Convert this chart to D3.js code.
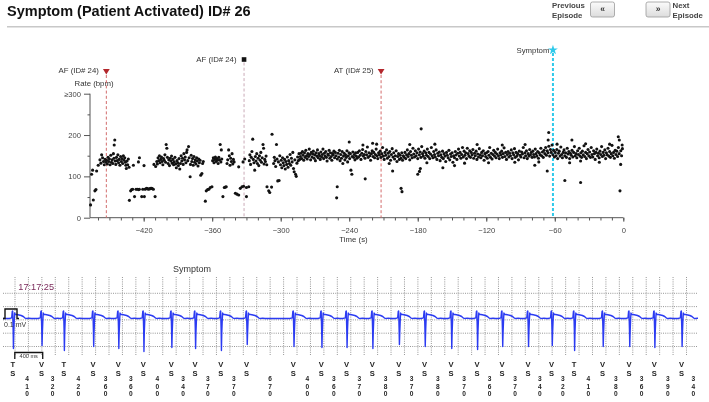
<!DOCTYPE html>
<html><head><meta charset="utf-8">
<script src="https://cdn.jsdelivr.net/npm/d3@7"></script>
<style>
body{margin:0;background:#fff;}
svg{display:block;font-family:"Liberation Sans",Arial,Helvetica,sans-serif;}
.gray-aa{opacity:0.995;will-change:opacity;}
</style>
</head><body>
<svg id="chart" width="709" height="402"></svg>
<script>
// ---------------- DATA ----------------
const titleText = "Symptom (Patient Activated) ID# 26";
const rateTicks = [0, 100, 200, 300];
const rateTickLabels = ["0", "100", "200", "\u2265300"];
const rateMinorTicks = [50, 150, 250];
const timeTicks = [-420, -360, -300, -240, -180, -120, -60, 0];
const timeTickLabels = ["\u2212420", "\u2212360", "\u2212300", "\u2212240", "\u2212180", "\u2212120", "\u221260", "0"];
const eventLabels = ["AF (ID# 24)", "AF (ID# 24)", "AT (ID# 25)", "Symptom"];
const eventTimes = [-452.7, -332.1, -212.1, -61.6];
const eventKinds = ["onset", "end", "onset", "symptom"];

// ventricular rate points [time (s), rate (bpm)]
const ratePoints = [
[-466.5,31],[-465.6,105],[-464.7,115],[-464.1,43],[-462.7,65],[-461.8,68],[-461.2,113],[-459.8,127],[-458.3,140],[-457.5,132],[-456.8,152],[-456,145],[-455.2,136],[-454.5,128],[-453.8,141],[-453,134],
[-452.4,139],[-451.8,130],[-451.2,146],[-450.6,136],[-450,142],[-449.4,128],[-448.8,151],[-448.2,134],[-447.6,140],[-447,131],[-446.5,155],[-446,144],[-445.8,176],[-445.3,188],[-445,137],[-444.4,129],[-443.8,146],[-443.2,138],[-442.6,152],[-442,133],[-441.4,141],[-440.8,127],[-440.2,148],[-439.6,136],[-439,143],[-438.4,131],[-437.8,150],[-437.2,139],[-436.6,145],[-436,134],[-435.6,127],[-435.2,119],[-434.6,137],[-434,128],[-433.4,142],[-432.8,122],
[-429,127],[-424.6,135],[-423.7,145],[-419.7,126],
[-432.5,42],[-431.4,65],[-430.5,68],[-429.6,69],[-428,51],[-426.7,69],[-425.5,69],[-424.4,68],[-423.8,69],[-421.7,51],[-420.8,69],[-419.4,51],[-418.8,69],[-418,70],[-417.3,71],[-416.5,70],[-415.8,69],[-415,70],[-414.4,70],[-413.7,71],[-413,71],[-412.3,70],[-411.5,69],[-410,51],
[-411,129],[-409.5,124],[-408.5,136],[-408,130],[-407.4,145],[-406.8,138],[-406.2,150],[-405.6,133],[-405,141],[-404.4,147],[-403.8,136],[-403.2,128],[-402.6,143],[-402,139],[-401.4,152],[-400.8,134],[-400.3,177],[-399.7,168],[-399.2,146],[-398.6,131],[-398,140],[-397.4,126],[-396.8,144],[-396.2,137],[-395.6,149],[-395,132],[-394.4,141],[-393.8,128],[-393.2,135],[-392.6,146],[-392,130],[-391.4,121],[-390.8,138],[-390.2,133],[-389.6,126],[-389,143],[-388.4,118],[-387.8,131],[-387.2,150],[-386.6,137],[-386,144],[-385.4,129],[-384.8,155],[-384.2,140],[-383.6,147],[-383,133],[-382.4,158],[-382,164],[-381.4,138],[-380.7,172],[-380.2,145],[-379.3,99],[-379,129],[-378.4,151],[-377.8,136],[-377.2,143],[-376.6,127],[-376,148],[-375.4,134],[-374.8,140],[-374.2,130],[-373.6,145],[-373,137],[-372.4,125],[-371.8,142],[-371.2,133],[-370.6,139],[-370,103],[-369,107],[-368.4,131],[-367.8,136],
[-366,40],[-365.2,65],[-364,68],[-362.9,69],[-361.7,73],[-360.2,75],
[-359.6,138],[-359,145],[-358.4,133],[-357.8,141],[-357.2,147],[-356.6,136],[-356,143],[-355.4,139],[-354.8,131],[-354.2,146],[-353.6,140],[-353,177],[-352.4,135],[-352,164],[-351.6,142],
[-350.6,51],[-349.4,73],[-348.5,74],[-347.7,75],
[-347,131],[-346.4,140],[-345.6,164],[-345,150],[-344.4,127],[-343.8,144],[-343.2,136],[-342.6,155],[-342,130],[-341.4,141],[-340.8,135],
[-339.7,59],[-338.3,57],[-336.8,55],[-335.4,71],[-333.9,75],[-332.5,76],[-336.8,123],[-333,135],[-331.5,142],[-330,73],[-330,51],[-328,75],
[-327.5,138],[-327,152],[-326.4,129],[-325.8,146],[-325.2,160],[-324.5,190],[-324,141],[-323.4,133],[-322.8,115],[-322.2,148],[-321.6,137],[-321,155],[-320.4,131],[-319.8,144],[-319.2,126],[-318.6,150],[-318,139],[-317.4,158],[-316.8,134],[-316.2,145],[-315.5,177],[-315,168],[-314.6,130],[-314,141],[-313.4,136],[-312.8,149],[-312.2,128],
[-312,75],[-310.5,65],[-309.6,61],[-308,74],[-307.6,202],[-303.7,177],
[-306.2,131],[-305.6,146],[-305,138],[-304.4,124],[-303.2,142],[-302.6,89],[-302,135],[-301.4,90],[-300.8,150],[-300.2,128],[-299.6,139],[-299,121],[-298.4,145],[-297.8,133],[-297.2,126],[-296.6,141],[-296,118],[-295.4,136],[-294.8,129],[-294.2,147],[-293.6,122],[-293,138],[-292.4,131],[-291.8,153],[-291.2,127],[-290.6,144],[-290,135],[-289.4,158],[-288.8,119],[-288.2,111],[-287.6,140],[-287,105],[-286.4,100],[-285.8,132],[-285.2,147],[-284.6,138],[-284,155],[-283.4,141],
[-282.8,148],[-282.2,156],[-281.6,143],[-281,160],[-280.4,151],[-279.8,139],[-279.2,157],[-278.6,146],[-278,163],[-277.4,150],[-276.8,142],[-276.2,155],[-275.6,148],[-275,166],[-274.4,153],[-273.8,140],[-273.2,158],[-272.6,147],[-272,154],[-271.4,161],[-270.8,144],[-270.2,152],[-269.6,138],[-269,157],[-268.4,149],[-267.8,164],[-267.2,145],[-266.6,155],[-266,150],[-265.4,141],[-264.8,159],[-264.2,147],[-263.6,153],[-263,166],[-262.4,143],[-261.8,156],[-261.2,149],[-260.6,160],[-260,146],[-259.4,137],[-258.8,154],[-258.2,151],[-257.6,163],[-257,144],[-256.4,157],[-255.8,148],[-255.2,139],[-254.6,155],[-254,152],[-253.4,161],[-252.8,145],[-252.2,158],[-251.6,150],[-251,48],[-250.5,75],[-250.4,142],[-249.8,156],[-249.2,147],[-248.6,163],[-248,138],[-247.4,153],[-246.8,144],[-246.2,160],[-245.6,131],[-245,149],[-244.4,156],[-243.8,140],[-243.2,152],[-242.6,146],[-242,162],[-241.4,135],[-240.8,150],[-240.2,157],[-240,183],[-239.6,143],[-239,155],[-238.5,115],[-237.7,105],[-237.4,148],[-236.8,159],[-236.2,146],[-235.6,153],[-235,140],[-234.4,157],[-233.8,149],[-233.2,144],
[-232.5,158],[-231.8,147],[-231.1,162],[-230.4,151],[-229.7,141],[-229,156],[-228.3,165],[-227.6,149],[-226.9,153],[-226,94],[-226.2,144],[-225.5,160],[-224.8,152],[-224.1,171],[-223.4,146],[-222.7,157],[-222,150],[-221.3,139],[-220.6,155],[-219.9,162],[-219.5,180],[-219.2,148],[-218.5,158],[-217.8,145],[-217.1,153],[-216.4,166],[-215.7,150],[-215,143],[-214.3,157],[-213.6,152],[-212.9,161],[-212.2,146],[-211.5,155],[-210.8,170],[-210.1,149],[-209.4,141],[-208.7,158],[-208,151],[-207.3,164],[-206.6,144],[-205.9,156],[-205.2,148],[-204.5,160],[-203.8,139],[-203.1,153],[-202.4,167],[-202,113],[-201.7,147],[-201,157],[-200.3,142],[-199.6,150],[-198.9,162],[-198.2,136],[-197.5,148],[-196.8,155],[-196.1,141],[-195.4,151],[-194.6,71],[-193.8,63],[-194.7,144],[-194,157],[-193.3,139],[-192.6,150],[-191.9,146],[-191.2,158],[-190.5,143],[-189.8,152],[-189.1,164],[-188.4,148],[-187.7,155],[-187,140],[-186.3,160],[-185.6,151],[-184.9,145],[-184.2,168],[-183.5,154],[-182.8,147],[-182.1,162],[-181.4,150],[-180.7,157],[-180,105],[-180,143],[-179.3,166],[-178.5,112],[-177.7,119],[-177,215],[-178.6,152],[-177.9,159],[-177.2,146],[-176.5,172],[-175.8,155],[-175.1,149],[-174.4,161],[-173.7,144],[-173,157],[-172.3,151],[-171.6,166],[-170.9,148],[-170.2,158],[-169.5,143],[-168.8,154],[-168.1,170],[-167.4,150],[-166.7,145],[-166,160],[-165.3,153],[-164.6,147],[-163.9,164],[-163.2,141],[-162.5,156],[-161.8,150],[-161.1,159],[-160.4,138],[-159.7,152],[-159,146],[-158.3,161],[-158,121],[-157.6,143],[-156.9,155],[-156.2,149],[-155.5,136],[-154.8,158],[-154.1,151],[-153.4,145],[-152.7,163],[-152,140],[-151.3,154],[-150.6,148],[-149.9,157],[-149.2,134],[-148.5,150],[-147.8,126],[-147.8,145],[-147.1,160],[-146.4,152],[-145.7,141],[-145,156],[-144.3,166],[-143.6,149],[-142.9,158],[-142.2,144],[-141.5,153],[-140.8,170],[-140.1,147],[-139.4,161],[-138.7,151],[-138,157],[-137.3,143],[-136.6,168],[-135.9,155],[-135.2,149],[-134.5,162],[-133.8,146],[-133.1,158],[-132.4,152],[-131.7,165],[-131,144],[-130.3,156],[-129.6,150],[-128.9,161],[-128.2,141],[-127.5,154],[-126.8,147],[-126.1,167],[-125.4,152],[-124.7,145],[-124,158],[-123.3,150],[-122.6,162],[-121.9,139],[-121.2,155],[-120.5,148],[-119.8,157],[-119.1,144],[-118.4,160],[-117.7,151],[-117,170],[-116.3,146],[-115.6,156],[-114.9,142],[-114.2,153],[-113.5,163],[-112.8,149],[-112.1,158],[-111.4,145],[-110.7,154],[-110,166],[-109.3,150],[-108.6,143],[-107.9,157],[-107.2,152],[-106.5,161],[-105.8,146],[-105.1,155],[-104.4,169],[-103.7,148],[-103,158],[-102.3,141],[-101.6,153],[-100.9,160],[-100.2,147],[-99.5,156],[-98.8,150],[-98.1,164],[-97.4,143],[-96.7,157],[-96,152],[-95.3,167],[-94.6,146],[-93.9,158],[-93.2,149],[-92.5,155],[-91.8,140],[-91.1,161],[-90.4,151],[-89.7,147],[-89,159],[-88.3,154],[-87.6,170],[-86.9,145],[-86.2,157],[-85.5,150],[-84.8,162],[-84.1,143],[-83.4,155],[-82.7,149],[-82,165],[-81.3,152],[-80.6,158],[-79.9,146],[-79.2,161],[-78.5,153],[-77.8,147],[-77.5,127],[-77.1,166],[-76.4,155],[-75.7,149],[-75,160],[-74.3,144],[-73.6,157],[-72.9,152],[-72.2,168],[-71.5,150],[-70.8,159],[-70.1,146],[-69.4,163],[-68.7,155],[-68,170],[-67.3,151],[-66.6,113],[-66.6,162],[-65.8,188],[-65.3,206],[-65.9,157],[-65.2,173],[-64.5,149],[-63.8,165],[-63.1,158],[-62.4,176],[-61.7,152],[-61,163],[-60.3,147],[-59.6,158],[-58.9,150],[-58.2,165],[-57.5,143],[-56.8,156],[-56.1,161],[-55.4,149],[-54.7,171],[-54,153],[-53.3,145],[-52.6,158],[-51.9,164],[-51.2,90],[-51.2,150],[-50.5,157],[-49.8,146],[-49.1,168],[-48.4,154],[-47.7,160],[-47,143],[-46.3,156],[-45.6,151],[-45,188],[-44.9,163],[-44.2,147],[-43.5,158],[-42.8,172],[-42.1,150],[-41.4,155],[-40.7,145],[-40,162],[-39.3,153],[-38.6,168],[-37.9,149],[-37.4,85],[-37.4,137],[-37.2,157],[-36.5,146],[-35.8,161],[-35.1,152],[-34.4,174],[-33.7,148],[-33,158],[-32.3,143],[-31.6,155],[-30.9,165],[-30.2,150],[-29.5,159],[-28.8,146],[-28.1,170],[-27.4,153],[-26.7,147],[-26,162],[-25.3,155],[-24.6,141],[-23.9,158],[-23.2,166],[-22.5,150],[-21.8,156],[-21.1,145],[-20.4,161],[-19.7,153],[-19,172],[-18.3,148],[-17.6,158],[-16.9,151],[-16.2,164],[-15.5,143],[-14.8,157],[-14.1,152],[-13.4,168],[-12.7,149],[-12,160],[-11.3,146],[-10.6,155],[-9.9,175],[-9.2,150],[-8.5,158],[-7.8,144],[-7.1,163],[-6.4,153],[-5.7,161],[-5,148],[-4.4,196],[-3.5,188],[-4.3,170],[-3.6,155],[-2.9,65],[-2.3,129],[-2.2,162],[-1.5,150],[-0.8,167],
[-228,176],[-216,178],[-205,131],[-187,177],[-172,133],[-165,178],[-139,132],[-128,177],[-118,133],[-106,176],[-95,134],[-86,177],[-74,135],[-58,178],[-47,133],[-33,179],[-21,134],[-12,178],[-1,176]
];

// EGM strip
const egmTimeLabel = "17:17:25";
const egmEventLabel = "Symptom";
const egmIntervals = [410,320,420,360,360,400,340,370,370,670,400,360,370,380,370,380,370,360,370,340,320,410,380,360,390,340];
const egmBeatCodes = ["T","V","T","V","V","V","V","V","V","V","V","V","V","V","V","V","V","V","V","V","V","T","V","V","V","V","V"];
const egmDepths = [0.30,0.27,0.32,0.28,0.30,0.33,0.29,0.30,0.32,0.26,0.28,0.29,0.29,0.30,0.26,0.28,0.30,0.31,0.28,0.28,0.27,0.32,0.28,0.28,0.29,0.28,0.28];
// beat waveform template [ms from sense, mV]; null = spike bottom
const beatTemplate = [[-50,0],[-16,0.006],[-8,0.07],[-2,0.075],[5,-0.12],[9,null],[14,-0.14],[20,-0.03],[26,0.055],[36,0.042],[75,0.037],[120,0.03],[150,0.02],[175,0.004],[200,0],[230,0.004],[262,0]];

// ---------------- DRAW ----------------
const svg = d3.select("#chart");
const FONT = '"Liberation Sans",Arial,Helvetica,sans-serif';
const root = svg.append("g").attr("class", "gray-aa");

// header
root.append("text").attr("x", 7).attr("y", 15.5).attr("font-size", 14.5).attr("font-weight", "bold")
  .attr("fill", "#111").text(titleText);
root.append("line").attr("x1", 7).attr("x2", 709).attr("y1", 26.7).attr("y2", 26.7)
  .attr("stroke", "#c8c8c8").attr("stroke-width", 1.5);

const defs = svg.append("defs");
const grad = defs.append("linearGradient").attr("id", "btn").attr("x1", 0).attr("x2", 0).attr("y1", 0).attr("y2", 1);
grad.append("stop").attr("offset", 0).attr("stop-color", "#fbfbfb");
grad.append("stop").attr("offset", 1).attr("stop-color", "#dcdcdc");

function navText(x, anchor, lines) {
  const t = root.append("text").attr("x", x).attr("font-size", 7.8).attr("font-weight", "bold")
    .attr("fill", "#444").attr("text-anchor", anchor);
  lines.forEach((l, i) => t.append("tspan").attr("x", x).attr("y", 7.8 + i * 10.2).text(l));
}
function navButton(x, glyph) {
  root.append("rect").attr("x", x).attr("y", 2).attr("width", 24).attr("height", 15).attr("rx", 2)
    .attr("fill", "url(#btn)").attr("stroke", "#9a9a9a").attr("stroke-width", 0.8);
  root.append("text").attr("x", x + 12).attr("y", 12.3).attr("text-anchor", "middle").attr("font-size", 8.5)
    .attr("font-weight", "bold").attr("fill", "#333").text(glyph);
}
navText(552, "start", ["Previous", "Episode"]);
navButton(590.5, "\u00ab");
navButton(646, "\u00bb");
navText(672.5, "start", ["Next", "Episode"]);

// scatter scales
const x = d3.scaleLinear().domain([-467, 0]).range([90, 623.3]);
const y = d3.scaleLinear().domain([0, 300]).range([217.7, 93.7]);

// axes
const axisColor = "#555";
const gx = root.append("g").attr("transform", "translate(0,217.7)");
gx.call(d3.axisBottom(x).tickValues(d3.range(-460, 1, 10)).tickSize(2.8).tickFormat(""));
gx.call(g => g.selectAll(".tick line").attr("stroke", axisColor));
gx.select(".domain").attr("stroke", axisColor).attr("d", `M${x(-467)},0H${x(0)}`);
const gx2 = root.append("g").attr("transform", "translate(0,217.7)");
gx2.call(d3.axisBottom(x).tickValues(timeTicks).tickSize(4).tickPadding(6)
  .tickFormat((d, i) => timeTickLabels[i]));
gx2.select(".domain").remove();
gx2.selectAll(".tick line").attr("stroke", axisColor);
gx2.selectAll(".tick text").attr("font-size", 7.6).attr("fill", "#444").attr("font-family", FONT);

const gy = root.append("g").attr("transform", "translate(90,0)");
gy.call(d3.axisLeft(y).tickValues(rateTicks).tickSize(6).tickPadding(3)
  .tickFormat((d, i) => rateTickLabels[i]));
gy.select(".domain").attr("stroke", axisColor).attr("d", `M0,${y(300)}V${y(0)}`);
gy.selectAll(".tick line").attr("stroke", axisColor);
gy.selectAll(".tick text").attr("font-size", 7.6).attr("fill", "#444").attr("font-family", FONT);
const gy2 = root.append("g").attr("transform", "translate(90,0)");
gy2.call(d3.axisLeft(y).tickValues(rateMinorTicks).tickSize(2.5).tickFormat(""));
gy2.select(".domain").remove();
gy2.selectAll(".tick line").attr("stroke", axisColor);

root.append("text").attr("x", 94).attr("y", 85.6).attr("text-anchor", "middle").attr("font-size", 7.8)
  .attr("fill", "#333").text("Rate (bpm)");
root.append("text").attr("x", 353.5).attr("y", 241.5).attr("text-anchor", "middle").attr("font-size", 7.8)
  .attr("fill", "#333").text("Time (s)");

// event markers
const kindStyle = {
  onset:   {line: "#d26a6a", width: 1, dash: "3,2.2", top: 75, markY: 71.5, textY: 73.4},
  end:     {line: "#c9a9b6", width: 1, dash: "3,2.2", top: 62.5, markY: 59.5, textY: 61.6},
  symptom: {line: "#2ec9ea", width: 2, dash: "3,2", top: 53, markY: 50, textY: 52.6}
};
eventTimes.forEach((t, i) => {
  const st = kindStyle[eventKinds[i]];
  const px = x(t);
  root.append("line").attr("x1", px).attr("x2", px).attr("y1", st.top).attr("y2", y(0))
    .attr("stroke", st.line).attr("stroke-width", st.width).attr("stroke-dasharray", st.dash);
  if (eventKinds[i] === "onset") {
    root.append("path").attr("d", `M${px - 3.4},${st.markY - 2.6}H${px + 3.4}L${px},${st.markY + 3}Z`).attr("fill", "#b3262b");
  } else if (eventKinds[i] === "end") {
    root.append("rect").attr("x", px - 2.3).attr("y", st.markY - 2.3).attr("width", 4.6).attr("height", 4.6).attr("fill", "#111");
  } else {
    root.append("path").attr("d", d3.symbol(d3.symbolStar, 30)()).attr("transform", `translate(${px},${st.markY})`).attr("fill", "#2ec9ea");
  }
  root.append("text").attr("x", px - (eventKinds[i] === "symptom" ? 3.5 : 7.5)).attr("y", st.textY)
    .attr("text-anchor", "end").attr("font-size", 7.8).attr("fill", "#333").text(eventLabels[i]);
});

// points
root.append("g").selectAll("circle").data(ratePoints).join("circle")
  .attr("cx", d => x(d[0])).attr("cy", d => y(d[1])).attr("r", 1.55).attr("fill", "#111");

// ---------------- EGM strip ----------------
const ex = d3.scaleLinear().domain([0, 1000]).range([12.8, 12.8 + 69.8]);
const ey = d3.scaleLinear().domain([0, 0.1]).range([318.5, 308.5]);
const beatTimes = [0];
egmIntervals.forEach(iv => beatTimes.push(beatTimes[beatTimes.length - 1] + iv));

// grid
const grid = root.append("g").attr("stroke", "#8a8a8a").attr("stroke-width", 0.9).attr("stroke-dasharray", "1,1.2");
const gridRows = [293.3, 306.6, 319.9, 333.2, 346.5];
const gridCols = d3.range(15, 690, 13.43);
gridRows.forEach(r => grid.append("line").attr("x1", 3).attr("x2", 698).attr("y1", r).attr("y2", r));
gridCols.forEach(c => grid.append("line").attr("x1", c).attr("x2", c).attr("y1", 277).attr("y2", 355));

root.append("text").attr("x", 192).attr("y", 271.5).attr("text-anchor", "middle").attr("font-size", 9)
  .attr("fill", "#333").text(egmEventLabel);
root.append("text").attr("x", 18.3).attr("y", 290).attr("font-size", 9.2)
  .attr("fill", "#7a2a5a").text(egmTimeLabel);

// trace
const tracePts = [[ex.invert(3), 0]];
beatTimes.forEach((bt, i) => {
  beatTemplate.forEach(([dt, v]) => tracePts.push([bt + dt, v === null ? -egmDepths[i] : v]));
});
tracePts.push([ex.invert(698), 0]);
defs.append("clipPath").attr("id", "egmclip").append("rect").attr("x", 3).attr("y", 260).attr("width", 695).attr("height", 110);
root.append("path").attr("clip-path", "url(#egmclip)")
  .attr("d", d3.line().x(d => ex(d[0])).y(d => ey(d[1]))(tracePts))
  .attr("fill", "none").attr("stroke", "#2a3af2").attr("stroke-width", 1.4).attr("stroke-linejoin", "round");

// calibration pulse
root.append("path").attr("d", "M3,318.5H5V309H17V318.5H19").attr("fill", "none").attr("stroke", "#111").attr("stroke-width", 1.4);
root.append("text").attr("x", 4).attr("y", 326.5).attr("font-size", 7).attr("fill", "#333").text("0.1 mV");
root.append("path").attr("d", `M${ex(0) + 2},359V352.5H${ex(400) + 2}V359`).attr("fill", "none").attr("stroke", "#111").attr("stroke-width", 1.3);
root.append("text").attr("x", (ex(0) + ex(400)) / 2 + 2).attr("y", 358.3).attr("text-anchor", "middle").attr("font-size", 5.6).attr("fill", "#333").text("400 ms");

// marker channel
const mk = root.append("g").attr("font-size", 7.6).attr("font-weight", "bold").attr("fill", "#222").attr("text-anchor", "middle");
beatTimes.forEach((bt, i) => {
  const px = ex(bt);
  if (px > 699) return;
  mk.append("text").attr("x", px).attr("y", 366.6).text(egmBeatCodes[i]);
  mk.append("text").attr("x", px).attr("y", 376.3).text("S");
});
egmIntervals.forEach((iv, i) => {
  const px = (ex(beatTimes[i]) + ex(beatTimes[i + 1])) / 2;
  String(iv).split("").forEach((ch, k) => {
    mk.append("text").attr("x", px).attr("y", 380.8 + k * 7.7).attr("font-size", 6.6).text(ch);
  });
});
</script>
</body></html>
